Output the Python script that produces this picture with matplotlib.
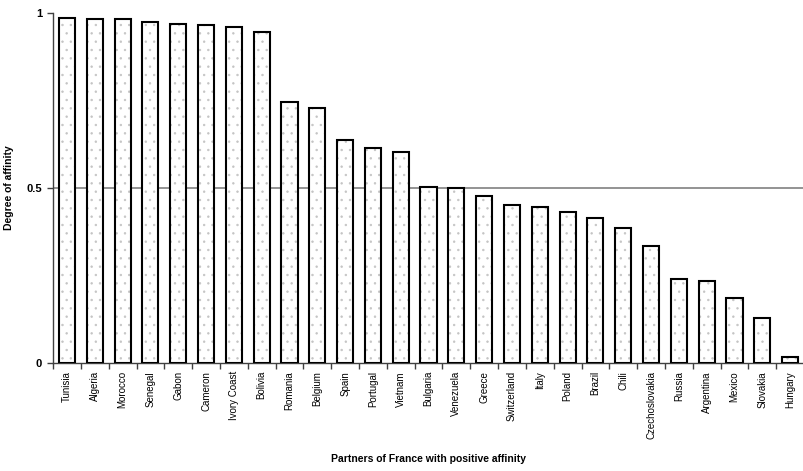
import numpy as np
import matplotlib
matplotlib.use("Agg")
import matplotlib.pyplot as plt

# partners of France, sorted by degree of affinity
partners = ["Tunisia", "Algeria", "Morocco", "Senegal", "Gabon", "Cameron",
            "Ivory Coast", "Bolivia", "Romania", "Belgium", "Spain", "Portugal",
            "Vietnam", "Bulgaria", "Venezuela", "Greece", "Switzerland", "Italy",
            "Poland", "Brazil", "Chili", "Czechoslovakia", "Russia", "Argentina",
            "Mexico", "Slovakia", "Hungary"]
affinity = [0.986, 0.983, 0.983, 0.974, 0.969, 0.964, 0.958, 0.945, 0.746,
            0.728, 0.635, 0.614, 0.602, 0.503, 0.500, 0.477, 0.450, 0.445,
            0.430, 0.413, 0.386, 0.332, 0.240, 0.233, 0.185, 0.129, 0.015]
threshold = 0.5

plt.rcParams['font.family'] = ['Liberation Sans', 'DejaVu Sans']
plt.rcParams['hatch.linewidth'] = 0.5

fig = plt.figure(figsize=(8.04, 4.71), dpi=100)
ax = fig.add_axes([0.066, 0.23, 0.934, 0.743])

x = np.arange(len(partners))

# threshold line behind the bars
ax.axhline(threshold, color="#808080", lw=1.2, zorder=1)

# stippled fill, then black outline
ax.bar(x, affinity, width=0.58, color="white", edgecolor="#c4c4c4",
       hatch="..", linewidth=0, zorder=2)
ax.bar(x, affinity, width=0.58, fill=False, edgecolor="black",
       linewidth=1.5, zorder=3)

ax.set_xlim(-0.5, len(partners) - 0.5)
ax.set_ylim(0, 1)

ax.set_yticks([0, 0.5, 1])
ax.set_yticklabels(["0", "0.5", "1"], fontsize=8, fontweight="bold")
ax.set_xticks(x)
ax.set_xticklabels(partners, rotation=90, fontsize=7)
ax.set_xticks(np.arange(len(partners) + 1) - 0.5, minor=True)
ax.tick_params(axis="x", which="major", length=0, pad=6)
ax.tick_params(axis="x", which="minor", length=4, width=1, color="#404040")
ax.tick_params(axis="y", length=4, width=1, color="#404040", pad=4)

for s in ["top", "right"]:
    ax.spines[s].set_visible(False)
for s in ["left", "bottom"]:
    ax.spines[s].set_color("#404040")
    ax.spines[s].set_linewidth(1.0)

ax.set_ylabel("Degree of affinity", fontsize=7.5, fontweight="bold")
ax.yaxis.set_label_coords(-0.052, 0.5)
ax.set_xlabel("Partners of France with positive affinity", fontsize=7.5,
              fontweight="bold")
ax.xaxis.set_label_coords(0.5, -0.26)

fig.savefig("out.png", dpi=100)
